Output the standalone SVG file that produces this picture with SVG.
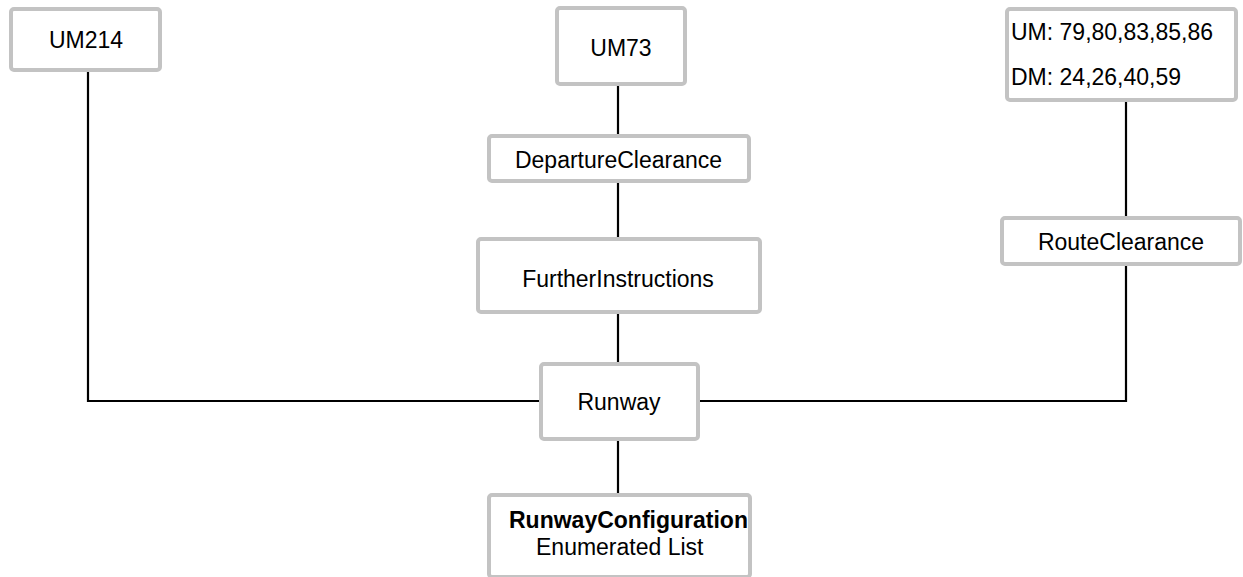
<svg xmlns="http://www.w3.org/2000/svg" width="1243" height="577" viewBox="0 0 1243 577">
  <style>
    .box { fill: #ffffff; stroke: #c3c3c3; stroke-width: 4; }
    .lbl { font-family: "Liberation Sans", Arial, sans-serif; font-size: 23px; fill: #000000; }
    .mid { text-anchor: middle; }
    .bold { font-weight: bold; }
    .wire { fill: none; stroke: #000000; stroke-width: 2.2; }
  </style>
  <rect width="1243" height="577" fill="#ffffff"/>

  <!-- connectors -->
  <g id="connectors" class="wire">
    <path d="M618 86 V136"/>
    <path d="M618 183 V239"/>
    <path d="M618 314 V364"/>
    <path d="M618 441 V495"/>
    <path d="M88 72 V401 H541"/>
    <path d="M698 401 H1126 V266"/>
    <path d="M1126 102 V218"/>
  </g>

  <g id="um214">
    <rect class="box" x="11" y="9" width="149" height="61" rx="3"/>
    <text class="lbl mid" x="86" y="48">UM214</text>
  </g>

  <g id="um73">
    <rect class="box" x="557" y="8" width="128" height="76" rx="3"/>
    <text class="lbl mid" x="621" y="56">UM73</text>
  </g>

  <g id="um-dm">
    <rect class="box" x="1007" y="9" width="229" height="91" rx="3"/>
    <text class="lbl" x="1011" y="40">UM: 79,80,83,85,86</text>
    <text class="lbl" x="1011" y="85">DM: 24,26,40,59</text>
  </g>

  <g id="departure-clearance">
    <rect class="box" x="489" y="136" width="260" height="45" rx="3"/>
    <text class="lbl mid" x="618.5" y="168">DepartureClearance</text>
  </g>

  <g id="further-instructions">
    <rect class="box" x="478" y="239" width="282" height="73" rx="3"/>
    <text class="lbl mid" x="618" y="287">FurtherInstructions</text>
  </g>

  <g id="runway">
    <rect class="box" x="541" y="364" width="157" height="75" rx="3"/>
    <text class="lbl mid" x="619" y="410">Runway</text>
  </g>

  <g id="route-clearance">
    <rect class="box" x="1002" y="218" width="238" height="46" rx="3"/>
    <text class="lbl mid" x="1121" y="250">RouteClearance</text>
  </g>

  <g id="runway-configuration">
    <rect class="box" x="489" y="495" width="261" height="82" rx="3"/>
    <text class="lbl bold" x="509" y="528">RunwayConfiguration</text>
    <text class="lbl" x="536" y="555">Enumerated List</text>
  </g>
</svg>
